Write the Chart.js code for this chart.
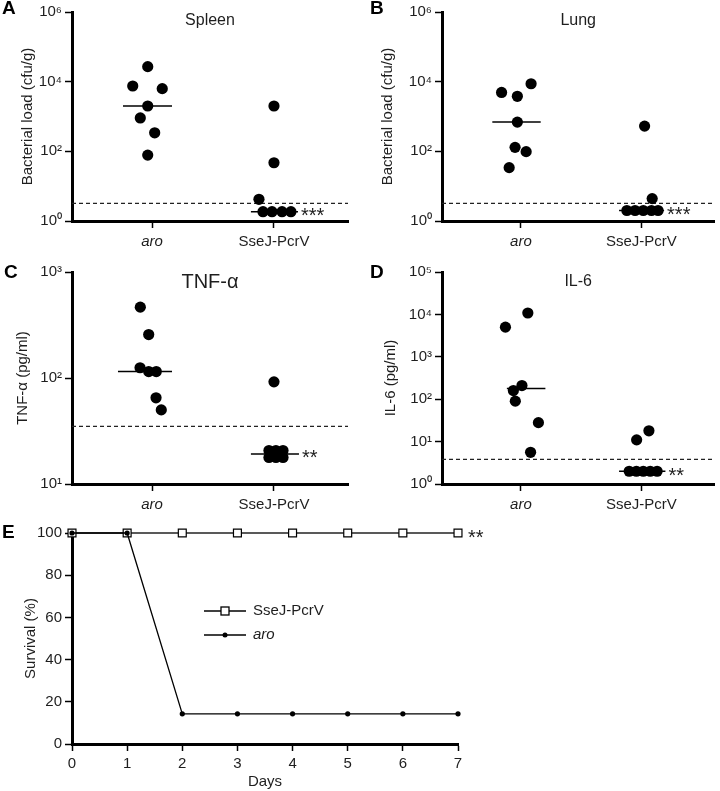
<!DOCTYPE html>
<html>
<head>
<meta charset="utf-8">
<script src="https://cdn.jsdelivr.net/npm/chart.js@4.4.1/dist/chart.umd.min.js"></script>
<style>
  body { margin: 0; background: #fff; }
  #wrap { position: relative; width: 720px; height: 791px; }
  canvas { position: absolute; }
</style>
</head>
<body>
<div id="wrap">
  <canvas id="cA"></canvas>
  <canvas id="cB"></canvas>
  <canvas id="cC"></canvas>
  <canvas id="cD"></canvas>
  <canvas id="cE"></canvas>
</div>
<script>
// ---- data ----
const groups = ['aro', 'SseJ-PcrV'];

// A  Spleen (cfu/g)
const spleenAro = [27000, 7500, 6300, 2000, 910, 340, 78];
const spleenAroX = [0.965, 0.842, 1.084, 0.965, 0.904, 1.022, 0.965];
const spleenVac = [2000, 47, 4.2, 1.85, 1.85, 1.85, 1.85];
const spleenVacX = [2, 2, 1.877, 1.91, 1.984, 2.066, 2.139];
const spleenMedian = [2000, 1.85];
const spleenLimit = 3.2;

// B  Lung (cfu/g)
const lungAro = [4900, 3800, 8700, 690, 130, 98, 34];
const lungAroX = [0.839, 0.97, 1.084, 0.97, 0.951, 1.043, 0.902];
const lungVac = [530, 4.4, 2, 2, 2, 2, 2];
const lungVacX = [2.027, 2.09, 1.88, 1.948, 2.016, 2.084, 2.139];
const lungMedian = [690, 2];
const lungLimit = 3.2;

// C  TNF-alpha (pg/ml)
const tnfAro = [466, 257, 125, 115, 115, 65, 50];
const tnfAroX = [0.904, 0.973, 0.902, 0.973, 1.035, 1.033, 1.076];
const tnfVac = [92, 20.7, 20.7, 20.7, 17.8, 17.8, 17.8];
const tnfVacX = [2, 1.959, 2.016, 2.074, 1.959, 2.016, 2.074];
const tnfMedian = [115, 19.2];
const tnfLimit = 35;

// D  IL-6 (pg/ml)
const il6Aro = [5000, 10800, 210, 160, 90, 28, 5.6];
const il6AroX = [0.871, 1.057, 1.008, 0.937, 0.953, 1.145, 1.08];
const il6Vac = [18, 11, 2, 2, 2, 2, 2];
const il6VacX = [2.063, 1.961, 1.899, 1.959, 2.016, 2.074, 2.131];
const il6Median = [178, 2];
const il6Limit = 3.8;

// E  survival
const days = [0, 1, 2, 3, 4, 5, 6, 7];
const survivalVac = [100, 100, 100, 100, 100, 100, 100, 100];
const survivalAro = [100, 100, 14.3, 14.3, 14.3, 14.3, 14.3, 14.3];
const survivalTicks = [0, 20, 40, 60, 80, 100];

// ---- styling ----
const FONT = '"Liberation Sans", Arial, sans-serif';
const INK = '#1e1e1e';
const SUP = ['\u2070', '\u00b9', '\u00b2', '\u00b3', '\u2074', '\u2075', '\u2076'];

function pts(xs, ys) {
  return ys.map((y, i) => ({ x: xs[i], y: y }));
}

function axisBase() {
  return {
    border: { display: true, color: '#000', width: 3 },
    grid: { display: true, drawOnChartArea: false, drawTicks: true, tickLength: 7, tickWidth: 1.5, tickColor: '#000' }
  };
}

function groupPanel(p) {
  const cv = document.getElementById(p.id);
  cv.width = p.w; cv.height = p.h;
  cv.style.left = p.left + 'px'; cv.style.top = p.top + 'px';

  const annot = {
    id: 'annot' + p.id,
    afterDraw(chart) {
      const c = chart.ctx, xs = chart.scales.x, ys = chart.scales.y;
      c.save();
      c.fillStyle = '#000';
      c.font = 'bold 19px ' + FONT;
      c.textAlign = 'left'; c.textBaseline = 'middle';
      c.fillText(p.letter, p.letterPos[0], p.letterPos[1]);
      c.fillStyle = INK;
      c.font = p.titleSize + 'px ' + FONT;
      c.textAlign = 'center';
      c.fillText(p.title, (chart.chartArea.left + chart.chartArea.right) / 2, p.titleY);
      c.font = '20px ' + FONT;
      c.textAlign = 'left';
      c.fillText(p.stars, xs.getPixelForValue(p.span[1][1]) + 3, ys.getPixelForValue(p.median[1]) + 5);
      c.restore();
    }
  };

  return new Chart(cv, {
    type: 'scatter',
    data: {
      datasets: [
        { data: pts(p.ax, p.ay), backgroundColor: '#000', borderWidth: 0, pointRadius: 5.6, clip: false },
        { data: pts(p.vx, p.vy), backgroundColor: '#000', borderWidth: 0, pointRadius: 5.6, clip: false },
        { type: 'line', data: [{ x: p.span[0][0], y: p.median[0] }, { x: p.span[0][1], y: p.median[0] }],
          borderColor: '#000', borderWidth: 1.5, pointRadius: 0 },
        { type: 'line', data: [{ x: p.span[1][0], y: p.median[1] }, { x: p.span[1][1], y: p.median[1] }],
          borderColor: '#000', borderWidth: 1.5, pointRadius: 0 },
        { type: 'line', data: [{ x: p.xMin, y: p.limit }, { x: p.xMax, y: p.limit }],
          borderColor: '#222', borderWidth: 1.4, borderDash: [4, 3], pointRadius: 0 }
      ]
    },
    options: {
      responsive: false,
      animation: false,
      events: [],
      layout: { padding: { left: 0, top: p.area.t, right: p.w - p.area.r, bottom: 0 } },
      plugins: { legend: { display: false }, tooltip: { enabled: false } },
      scales: {
        x: Object.assign(axisBase(), {
          type: 'linear', min: p.xMin, max: p.xMax,
          afterFit(s) { s.height = p.h - p.area.b; },
          afterBuildTicks(s) { s.ticks = [{ value: 1 }, { value: 2 }]; },
          ticks: {
            autoSkip: false, maxRotation: 0, padding: 5, color: INK,
            font: (ctx) => ({ family: FONT, size: 15, style: ctx.index === 0 ? 'italic' : 'normal' }),
            callback: (v) => groups[v - 1]
          }
        }),
        y: Object.assign(axisBase(), {
          type: 'logarithmic', min: p.yMin, max: p.yMax,
          afterFit(s) { s.width = p.area.l; },
          afterBuildTicks(s) { s.ticks = p.yTicks.map(v => ({ value: v })); },
          ticks: {
            padding: 3, color: INK, font: { family: FONT, size: 15 },
            callback: (v) => '10' + SUP[Math.round(Math.log10(v))]
          },
          title: { display: true, text: p.yTitle, color: INK, font: { family: FONT, size: 15 }, padding: { top: p.yTitlePad } }
        })
      }
    },
    plugins: [annot]
  });
}

const aroTick = { xMin: 0.344, xMax: 2.607 };

groupPanel(Object.assign({
  id: 'cA', left: 0, top: 0, w: 360, h: 260, area: { l: 72, t: 12, r: 348, b: 221 },
  yMin: 1, yMax: 1e6, yTicks: [1, 1e2, 1e4, 1e6], yTitle: 'Bacterial load (cfu/g)', yTitlePad: 19,
  letter: 'A', letterPos: [2, 9], title: 'Spleen', titleSize: 16, titleY: 21,
  ax: spleenAroX, ay: spleenAro, vx: spleenVacX, vy: spleenVac, median: spleenMedian,
  span: [[0.762, 1.164], [1.811, 2.197]], limit: spleenLimit, stars: '***'
}, aroTick));

groupPanel(Object.assign({
  id: 'cB', left: 360, top: 0, w: 360, h: 260, area: { l: 82, t: 12, r: 358, b: 221 },
  yMin: 1, yMax: 1e6, yTicks: [1, 1e2, 1e4, 1e6], yTitle: 'Bacterial load (cfu/g)', yTitlePad: 19,
  letter: 'B', letterPos: [10, 9], title: 'Lung', titleSize: 16, titleY: 21,
  ax: lungAroX, ay: lungAro, vx: lungVacX, vy: lungVac, median: lungMedian,
  span: [[0.762, 1.164], [1.815, 2.189]], limit: lungLimit, stars: '***'
}, aroTick));

groupPanel(Object.assign({
  id: 'cC', left: 0, top: 250, w: 360, h: 270, area: { l: 72, t: 22, r: 348, b: 234 },
  yMin: 10, yMax: 1000, yTicks: [10, 100, 1000], yTitle: 'TNF-\u03b1 (pg/ml)', yTitlePad: 14,
  letter: 'C', letterPos: [4, 23], title: 'TNF-\u03b1', titleSize: 20, titleY: 32,
  ax: tnfAroX, ay: tnfAro, vx: tnfVacX, vy: tnfVac, median: tnfMedian,
  span: [[0.721, 1.164], [1.811, 2.205]], limit: tnfLimit, stars: '**'
}, aroTick));

groupPanel(Object.assign({
  id: 'cD', left: 360, top: 250, w: 360, h: 270, area: { l: 82, t: 22, r: 358, b: 234 },
  yMin: 1, yMax: 1e5, yTicks: [1, 10, 100, 1e3, 1e4, 1e5], yTitle: 'IL-6 (pg/ml)', yTitlePad: 22,
  letter: 'D', letterPos: [10, 23], title: 'IL-6', titleSize: 16, titleY: 32,
  ax: il6AroX, ay: il6Aro, vx: il6VacX, vy: il6Vac, median: il6Median,
  span: [[0.883, 1.203], [1.815, 2.2]], limit: il6Limit, stars: '**'
}, aroTick));

// ---- E: survival ----
(function () {
  const cv = document.getElementById('cE');
  const W = 720, H = 276, area = { l: 72, t: 18, r: 458, b: 229 };
  cv.width = W; cv.height = H;
  cv.style.left = '0px'; cv.style.top = '515px';

  const extras = {
    id: 'survExtras',
    afterDraw(chart) {
      const c = chart.ctx, xs = chart.scales.x, ys = chart.scales.y;
      c.save();
      c.fillStyle = '#000';
      c.font = 'bold 19px ' + FONT;
      c.textBaseline = 'middle';
      c.fillText('E', 2, 18);
      c.fillStyle = INK;
      c.font = '20px ' + FONT;
      c.fillText('**', xs.getPixelForValue(days[days.length - 1]) + 10, ys.getPixelForValue(survivalVac[7]) + 5);

      // legend
      const lx = 204, lw = 42;
      const rows = [
        { y: 96, label: 'SseJ-PcrV', italic: false, square: true },
        { y: 120, label: 'aro', italic: true, square: false }
      ];
      rows.forEach(r => {
        c.strokeStyle = '#000'; c.lineWidth = 1.3;
        c.beginPath(); c.moveTo(lx, r.y); c.lineTo(lx + lw, r.y); c.stroke();
        if (r.square) {
          c.fillStyle = '#fff';
          c.fillRect(lx + lw / 2 - 4, r.y - 4, 8, 8);
          c.strokeRect(lx + lw / 2 - 4, r.y - 4, 8, 8);
        } else {
          c.fillStyle = '#000';
          c.beginPath(); c.arc(lx + lw / 2, r.y, 2.5, 0, Math.PI * 2); c.fill();
        }
        c.fillStyle = INK;
        c.font = (r.italic ? 'italic ' : '') + '15px ' + FONT;
        c.textAlign = 'left';
        c.fillText(r.label, lx + lw + 7, r.y);
      });
      c.restore();
    }
  };

  new Chart(cv, {
    type: 'line',
    data: {
      datasets: [
        { label: 'aro', data: pts(days, survivalAro), borderColor: '#000', borderWidth: 1.3,
          pointRadius: 2.6, pointBackgroundColor: '#000', pointBorderWidth: 0, clip: false },
        { label: 'SseJ-PcrV', data: pts(days, survivalVac), borderColor: '#222', borderWidth: 1.3,
          pointStyle: 'rect', pointRadius: 5.6, pointBackgroundColor: '#fff', pointBorderColor: '#000',
          pointBorderWidth: 1.2, clip: false }
      ]
    },
    options: {
      responsive: false,
      animation: false,
      events: [],
      layout: { padding: { left: 0, top: area.t, right: W - area.r, bottom: 0 } },
      plugins: { legend: { display: false }, tooltip: { enabled: false } },
      scales: {
        x: Object.assign(axisBase(), {
          type: 'linear', min: 0, max: 7,
          afterFit(s) { s.height = H - area.b; },
          ticks: { stepSize: 1, padding: 4, color: INK, font: { family: FONT, size: 15 } },
          title: { display: true, text: 'Days', color: INK, font: { family: FONT, size: 15 }, padding: { bottom: 0 } }
        }),
        y: Object.assign(axisBase(), {
          type: 'linear', min: 0, max: 100,
          afterFit(s) { s.width = area.l; },
          afterBuildTicks(s) { s.ticks = survivalTicks.map(v => ({ value: v })); },
          ticks: { padding: 3, color: INK, font: { family: FONT, size: 15 } },
          title: { display: true, text: 'Survival (%)', color: INK, font: { family: FONT, size: 15 }, padding: { top: 22 } }
        })
      }
    },
    plugins: [extras]
  });
})();
</script>
</body>
</html>
